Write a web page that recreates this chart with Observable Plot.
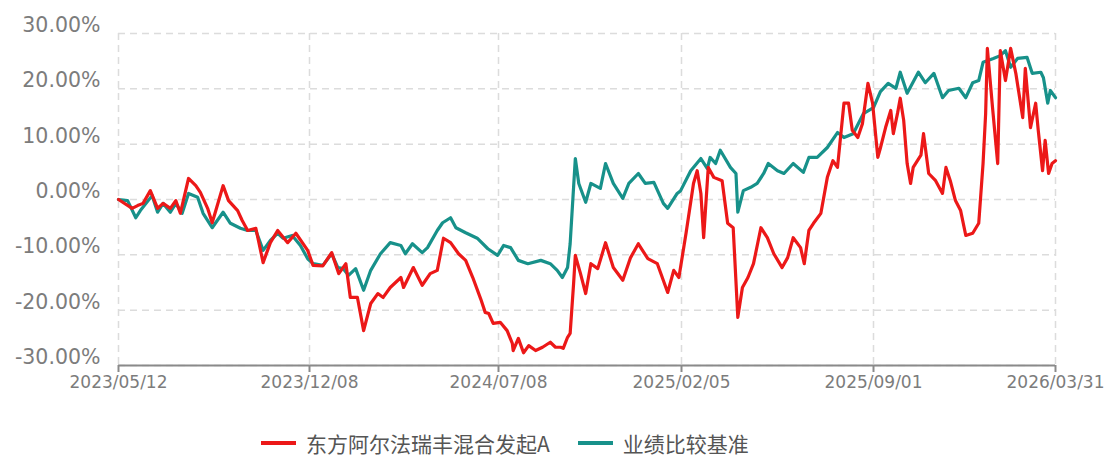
<!DOCTYPE html>
<html><head><meta charset="utf-8">
<script src="https://cdn.jsdelivr.net/npm/d3@7"></script>
<script src="https://cdn.jsdelivr.net/npm/@observablehq/plot@0.6"></script>
<style>
body{margin:0;background:#fff;font-family:"DejaVu Sans",sans-serif;}
#chart{position:absolute;left:0;top:0;}
#legend{position:absolute;top:428px;left:261px;display:flex;align-items:center;font-family:"Noto Sans CJK SC",sans-serif;font-size:21px;color:#555;white-space:nowrap;}
.item{display:flex;align-items:center;margin-right:28px;}
.sw{display:inline-block;width:35px;height:4px;margin-right:10px;}
</style></head><body><div id="chart"></div><div id="legend"></div>
<script>
const seriesNames = ["东方阿尔法瑞丰混合发起A", "业绩比较基准"];
const seriesColors = ["#ec1818", "#17918a"];
const xTicks = ["2023-05-12","2023-12-08","2024-07-08","2025-02-05","2025-09-01","2026-03-31"];
const yTicks = [-30,-20,-10,0,10,20,30];

const fundDates = [
"2023-05-12","2023-05-27","2023-06-02","2023-06-08","2023-06-16","2023-06-24","2023-06-30","2023-07-08","2023-07-14","2023-07-19","2023-07-28","2023-08-05","2023-08-10","2023-08-18","2023-08-23","2023-08-27","2023-09-04","2023-09-10","2023-09-20","2023-09-25","2023-10-01","2023-10-10","2023-10-18","2023-10-26","2023-11-03","2023-11-14","2023-11-23","2023-12-06",
"2023-12-12","2023-12-23","2024-01-02","2024-01-10","2024-01-18","2024-01-23","2024-01-31","2024-02-07","2024-02-15","2024-02-23","2024-02-29","2024-03-08","2024-03-20","2024-03-23","2024-04-03","2024-04-13","2024-04-22","2024-04-30","2024-05-07","2024-05-15","2024-05-24","2024-06-01","2024-06-09","2024-06-18","2024-06-23","2024-06-27","2024-07-02",
"2024-07-10","2024-07-18","2024-07-24","2024-07-25","2024-07-31","2024-08-06","2024-08-12","2024-08-20","2024-08-28","2024-09-06","2024-09-12","2024-09-18","2024-09-21","2024-09-26","2024-09-29","2024-10-03","2024-10-05","2024-10-11","2024-10-17","2024-10-23","2024-10-31","2024-11-09","2024-11-18","2024-11-29","2024-12-08","2024-12-17","2024-12-28","2025-01-08","2025-01-20","2025-01-27","2025-02-02",
"2025-02-10","2025-02-18","2025-02-22","2025-02-26","2025-03-01","2025-03-06","2025-03-12","2025-03-21","2025-03-27","2025-04-02","2025-04-07","2025-04-12","2025-04-18","2025-04-24","2025-05-02","2025-05-09","2025-05-16","2025-05-25","2025-05-31","2025-06-06","2025-06-14","2025-06-18","2025-06-23","2025-06-28","2025-07-06","2025-07-13","2025-07-19","2025-07-24","2025-07-31","2025-08-05","2025-08-09","2025-08-15","2025-08-20","2025-08-26","2025-08-31",
"2025-09-06","2025-09-09","2025-09-15","2025-09-21","2025-09-24","2025-09-29","2025-10-02","2025-10-06","2025-10-10","2025-10-14","2025-10-17","2025-10-26","2025-10-29","2025-11-04","2025-11-12","2025-11-20","2025-11-24","2025-11-29","2025-12-05","2025-12-11","2025-12-17","2025-12-25","2026-01-01","2026-01-06","2026-01-09","2026-01-11","2026-01-17","2026-01-23","2026-01-26","2026-02-01","2026-02-07","2026-02-13","2026-02-21","2026-02-24","2026-03-02","2026-03-08","2026-03-11","2026-03-16","2026-03-19","2026-03-23","2026-03-27","2026-03-31"];
const fundValues = [
0,-1.6,-1.1,-0.7,1.6,-1.6,-0.7,-1.6,-0.2,-2.5,3.8,2.5,1.3,-1.6,-4.2,-2.0,2.5,-0.2,-2.0,-3.8,-5.6,-5.2,-11.4,-7.8,-5.6,-7.8,-6.1,-9.2,
-11.9,-12.0,-9.6,-13.4,-11.6,-17.7,-17.7,-23.7,-18.8,-17.0,-17.7,-15.9,-14.1,-15.9,-12.3,-15.5,-13.4,-12.8,-7.0,-7.8,-9.8,-11.0,-14.1,-18.0,-20.4,-20.6,-22.4,
-22.2,-23.7,-26.0,-27.3,-25.1,-27.7,-26.4,-27.3,-26.7,-25.8,-26.7,-26.7,-26.9,-24.9,-24.2,-15.2,-10.1,-13.4,-17.0,-11.6,-12.5,-7.8,-12.3,-14.6,-10.5,-8.0,-10.7,-11.6,-16.8,-12.8,-14.1,
-6.0,2.9,5.2,1.1,-6.9,5.8,4.0,3.4,-4.3,-5.1,-21.3,-15.9,-14.1,-11.6,-5.1,-6.9,-9.8,-12.3,-10.5,-6.9,-8.7,-11.6,-5.6,-4.3,-2.5,4.0,7.0,5.8,17.4,17.4,12.5,11.2,13.7,21.0,17.4,
7.6,9.3,13.0,16.1,11.9,15.7,18.3,14.3,6.5,2.9,5.8,8.0,11.9,4.7,3.4,1.1,5.8,3.4,-0.2,-2.0,-6.5,-6.1,-4.3,6.5,15.5,27.3,16.6,6.5,26.9,21.5,27.3,22.8,14.8,23.7,13.0,17.4,12.5,5.2,10.7,4.7,6.5,7.0];

const benchDates = [
"2023-05-12","2023-05-22","2023-05-31","2023-06-05","2023-06-18","2023-06-24","2023-06-30","2023-07-08","2023-07-14","2023-07-21","2023-07-28","2023-08-07","2023-08-13","2023-08-23","2023-09-04","2023-09-12","2023-09-23","2023-10-01","2023-10-10","2023-10-18","2023-10-26","2023-11-03","2023-11-09","2023-11-19","2023-11-28","2023-12-06",
"2023-12-12","2023-12-23","2024-01-02","2024-01-09","2024-01-15","2024-01-21","2024-01-29","2024-02-07","2024-02-15","2024-02-26","2024-03-08","2024-03-20","2024-03-25","2024-04-02","2024-04-13","2024-04-19","2024-04-30","2024-05-06","2024-05-15","2024-05-21","2024-06-01","2024-06-14","2024-06-26","2024-07-07",
"2024-07-14","2024-07-22","2024-07-31","2024-08-11","2024-08-26","2024-09-06","2024-09-14","2024-09-20","2024-09-26","2024-09-29","2024-10-05","2024-10-09","2024-10-17","2024-10-23","2024-11-03","2024-11-09","2024-11-18","2024-11-29","2024-12-06","2024-12-17","2024-12-25","2025-01-04","2025-01-15","2025-01-20","2025-01-31",
"2025-02-04","2025-02-15","2025-02-26","2025-03-05","2025-03-08","2025-03-14","2025-03-19","2025-03-30","2025-04-05","2025-04-07","2025-04-13","2025-04-21","2025-04-28","2025-05-05","2025-05-10","2025-05-20","2025-05-27","2025-06-06","2025-06-17","2025-06-23","2025-07-02","2025-07-13","2025-07-24","2025-07-31","2025-08-10","2025-08-21","2025-09-01",
"2025-09-09","2025-09-18","2025-09-27","2025-10-02","2025-10-10","2025-10-23","2025-10-31","2025-11-10","2025-11-20","2025-11-27","2025-12-09","2025-12-17","2025-12-25","2026-01-01","2026-01-06","2026-01-18","2026-01-26","2026-02-01","2026-02-07","2026-02-15","2026-02-26","2026-03-04","2026-03-14","2026-03-17","2026-03-22","2026-03-25","2026-03-31"];
const benchValues = [
0,-0.2,-3.3,-2.0,0.7,-2.3,-0.7,-2.3,-0.7,-2.5,1.1,0.4,-2.5,-5.1,-2.3,-4.3,-5.2,-5.6,-5.6,-9.2,-7.4,-6.1,-7.0,-6.5,-8.3,-10.7,
-11.6,-11.9,-9.8,-12.3,-12.5,-13.7,-12.5,-16.4,-12.8,-9.8,-7.8,-8.3,-9.8,-8.0,-9.6,-8.7,-5.6,-4.2,-3.3,-5.1,-6.0,-7.0,-8.9,-10.1,
-8.3,-8.7,-11.0,-11.6,-11.0,-11.6,-12.8,-14.1,-12.3,-8.0,7.4,2.9,-0.5,2.9,2.0,6.5,2.9,0.2,2.9,4.7,2.9,3.1,-0.7,-1.6,1.1,
1.6,5.2,7.4,5.6,7.6,6.5,8.9,5.8,4.7,-2.3,1.6,2.2,2.9,4.7,6.5,5.2,4.7,6.5,4.9,7.6,7.6,9.4,12.1,11.2,11.9,15.5,16.6,
19.5,21.0,20.1,23.0,19.2,23.0,21.1,22.8,18.4,19.7,20.1,18.4,21.1,21.5,24.8,25.5,26.0,26.9,23.9,25.5,25.7,22.8,23.0,22.0,17.4,19.7,18.4];

const parse = d3.utcParse("%Y-%m-%d");
const fund = fundDates.map((d, i) => ({date: parse(d), value: fundValues[i]}));
const bench = benchDates.map((d, i) => ({date: parse(d), value: benchValues[i]}));
const tickDates = xTicks.map(parse);
const grey = "#7c7c7c";

const chart = Plot.plot({
  width: 1105,
  height: 400,
  marginLeft: 118,
  marginRight: 50,
  marginTop: 33,
  marginBottom: 35,
  x: {type: "utc", domain: tickDates, range: [118, 309, 498, 681, 873, 1055]},
  y: {domain: [-30, 30]},
  style: {fontFamily: "DejaVu Sans, sans-serif", background: "#fff", overflow: "visible"},
  marks: [
    Plot.gridY(yTicks, {stroke: "#dcdcdc", strokeOpacity: 1, strokeDasharray: "7,5", strokeWidth: 1.5}),
    Plot.gridX(tickDates, {stroke: "#dcdcdc", strokeOpacity: 1, strokeDasharray: "7,5", strokeWidth: 1.5}),
    Plot.ruleY([-30], {stroke: "#8a8a8a", strokeWidth: 2}),
    Plot.axisX(tickDates, {tickFormat: d3.utcFormat("%Y/%m/%d"), tickSize: 7, tickPadding: 3, fontSize: 17, color: grey, stroke: "#8a8a8a", strokeWidth: 2, label: null}),
    Plot.axisY(yTicks, {tickFormat: d => d.toFixed(2) + "%", tickSize: 0, tickPadding: 18, fontSize: 20.5, dy: -8, color: grey, label: null}),
    Plot.line(bench, {x: "date", y: "value", stroke: seriesColors[1], strokeWidth: 3.2}),
    Plot.line(fund, {x: "date", y: "value", stroke: seriesColors[0], strokeWidth: 3.2})
  ]
});
document.getElementById("chart").append(chart);

const legend = document.getElementById("legend");
seriesNames.forEach((name, i) => {
  const item = document.createElement("div");
  item.className = "item";
  const sw = document.createElement("span");
  sw.className = "sw";
  sw.style.background = seriesColors[i];
  const t = document.createElement("span");
  t.textContent = name;
  item.append(sw, t);
  legend.append(item);
});
</script></body></html>
